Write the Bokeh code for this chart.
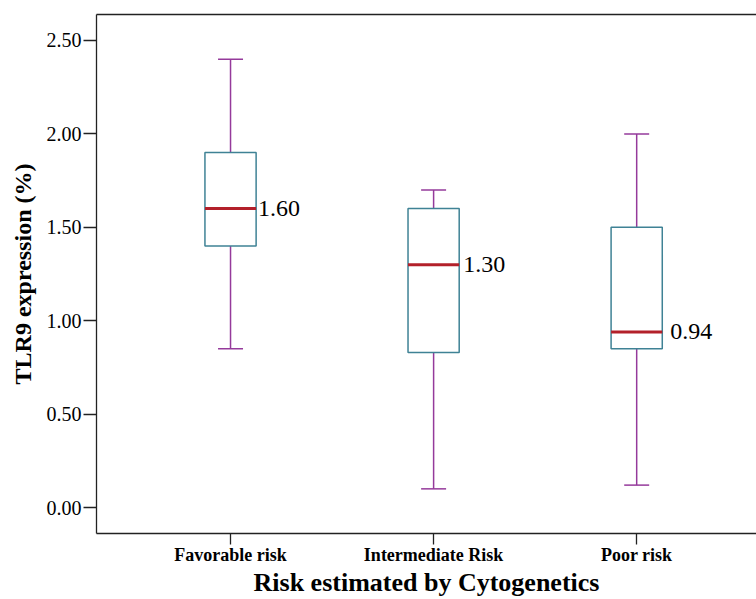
from bokeh.plotting import figure
from bokeh.models import FixedTicker, LinearAxis, Range1d, ColumnDataSource, NumeralTickFormatter
from bokeh.embed import file_html
from bokeh.resources import INLINE
from bokeh.core.properties import value

# ---- data ----
categories = ["Favorable risk", "Intermediate Risk", "Poor risk"]
positions = [1, 2, 3]
whisker_low = [0.85, 0.10, 0.12]
q1 = [1.40, 0.83, 0.85]
median = [1.60, 1.30, 0.94]
q3 = [1.90, 1.60, 1.50]
whisker_high = [2.40, 1.70, 2.00]
median_labels = ["1.60", "1.30", "0.94"]
y_ticks = [0.0, 0.5, 1.0, 1.5, 2.0, 2.5]

BOX_W = 0.252
CAP_W = 0.123
FONT = "Liberation Serif"
BOX_COLOR = "#3f8295"
MED_COLOR = "#b3202a"
WHISK_COLOR = "#953a9b"

p = figure(width=756, height=599, output_backend="svg", toolbar_location=None,
           x_range=Range1d(0.34, 3.59), y_range=Range1d(-0.139, 2.639),
           min_border_left=96, min_border_top=14, min_border_right=0, min_border_bottom=66)
p.outline_line_color = None
p.xgrid.visible = False
p.ygrid.visible = False
p.background_fill_color = "white"
p.border_fill_color = "white"

src = ColumnDataSource(dict(
    x=positions,
    lo=whisker_low, q1=q1, med=median, q3=q3, hi=whisker_high,
    xl=[v - BOX_W / 2 for v in positions], xr=[v + BOX_W / 2 for v in positions],
    cl=[v - CAP_W / 2 for v in positions], cr=[v + CAP_W / 2 for v in positions],
    lab=median_labels,
))

# whiskers
p.segment(x0="x", y0="q3", x1="x", y1="hi", source=src, line_color=WHISK_COLOR, line_width=1.5)
p.segment(x0="x", y0="q1", x1="x", y1="lo", source=src, line_color=WHISK_COLOR, line_width=1.5)
p.segment(x0="cl", y0="hi", x1="cr", y1="hi", source=src, line_color=WHISK_COLOR, line_width=1.5)
p.segment(x0="cl", y0="lo", x1="cr", y1="lo", source=src, line_color=WHISK_COLOR, line_width=1.5)
# boxes
p.vbar(x="x", width=BOX_W, top="q3", bottom="q1", source=src,
       fill_color="white", line_color=BOX_COLOR, line_width=1.5)
# medians
p.segment(x0="xl", y0="med", x1="xr", y1="med", source=src, line_color=MED_COLOR, line_width=3)
# median labels
src2 = ColumnDataSource(dict(x=src.data["xr"], y=median, lab=median_labels, off=[2, 4, 8]))
p.text(x="x", y="y", text="lab", source=src2, x_offset="off",
       text_font=value(FONT), text_font_size="24px", text_align="left",
       text_baseline="middle", text_color="black")

# axes
ax = p.xaxis[0]
ax.ticker = FixedTicker(ticks=positions)
ax.major_label_overrides = {positions[i]: categories[i] for i in range(3)}
ax.axis_label = "Risk estimated by Cytogenetics"
ay = p.yaxis[0]
ay.ticker = FixedTicker(ticks=y_ticks)
ay.formatter = NumeralTickFormatter(format="0.00")
ay.axis_label = "TLR9 expression (%)"

for a in (ax, ay):
    a.axis_line_color = "#222222"
    a.axis_line_width = 1.3
    a.major_tick_line_color = "#222222"
    a.major_tick_line_width = 1.3
    a.major_tick_in = 0
    a.minor_tick_line_color = None
    a.major_label_text_font = FONT
    a.major_label_text_color = "black"
    a.axis_label_text_font = FONT
    a.axis_label_text_font_style = "bold"
    a.axis_label_text_color = "black"

ax.major_tick_out = 11
ax.major_label_standoff = 0
ax.major_label_text_font_size = "18px"
ax.major_label_text_font_style = "bold"
ax.axis_label_text_font_size = "26px"
ax.axis_label_standoff = 0

ay.major_tick_out = 13
ay.major_label_standoff = 2
ay.major_label_text_font_size = "20px"
ay.axis_label_text_font_size = "24px"
ay.axis_label_standoff = 8

top = LinearAxis(ticker=FixedTicker(ticks=[]), major_label_text_font_size="0px",
                 axis_line_color="#222222", axis_line_width=1.3,
                 major_tick_line_color=None, minor_tick_line_color=None)
p.add_layout(top, "above")

open("out.html", "w").write(file_html(p, INLINE))
